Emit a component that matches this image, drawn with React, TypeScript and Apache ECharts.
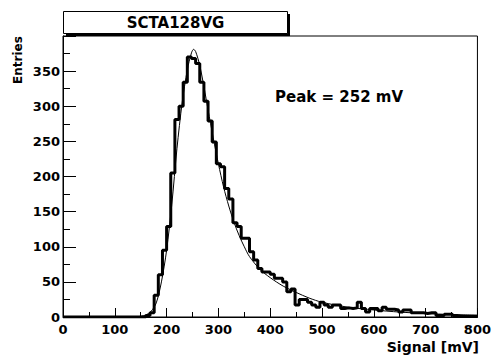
import React, { useEffect, useRef } from "react";
import * as echarts from "echarts";

const binWidth = 8;
const histCounts = [
  0, 0, 0, 0, 0, 0, 0, 0, 0, 0,
  0, 0, 0, 0, 0, 0, 0, 0, 0, 0,
  2, 6, 31, 60, 95, 129, 205, 281, 300, 334,
  370, 368, 361, 334, 307, 279, 249, 218, 214, 183,
  168, 134, 129, 112, 112, 93, 81, 69, 64, 64,
  61, 55, 55, 50, 36, 40, 17, 25, 25, 21,
  17, 14, 21, 17, 14, 17, 17, 12, 13, 12,
  13, 21, 12, 7, 12, 12, 9, 14, 11, 11,
  10, 7, 10, 10, 6, 6, 6, 5, 6, 6,
  2, 2, 4, 4, 2, 1, 1, 1, 1, 1,
];
const fitX = [0, 140, 150, 160, 170, 180, 190, 200, 210, 220, 230, 240, 248, 252, 256, 264, 272, 280, 290, 300, 310, 320, 330, 340, 350, 360, 380, 400, 425, 450, 475, 500, 550, 600, 650, 700, 750, 800];
const fitY = [0, 0.3, 1, 3, 8, 20, 50, 95, 160, 240, 305, 352, 376, 381, 378, 358, 328, 295, 255, 218, 185, 158, 135, 116, 100, 86, 68, 56, 44, 35, 27, 21, 14, 10, 7, 5, 3.5, 2.5];
const xTickValues = [0, 100, 200, 300, 400, 500, 600, 700, 800];
const yTickValues = [0, 50, 100, 150, 200, 250, 300, 350];

const FONT = "DejaVu Sans";

export default function App() {
  const ref = useRef<HTMLDivElement>(null);
  useEffect(() => {
    if (!ref.current) return;
    const chart = echarts.init(ref.current, null, { renderer: "svg" });
    const histData: number[][] = histCounts.map((c, i) => [i * binWidth, c]);
    histData.push([histCounts.length * binWidth, histCounts[histCounts.length - 1]]);
    const fitData = fitX.map((x, i) => [x, fitY[i]]);
    chart.setOption({
      animation: false,
      backgroundColor: "#fff",
      grid: {
        left: 63,
        right: 15,
        top: 36,
        bottom: 39,
        show: true,
        borderColor: "#000",
        borderWidth: 1,
        backgroundColor: "transparent",
      },
      xAxis: {
        type: "value",
        min: 0,
        max: 800,
        interval: 100,
        axisLine: { show: true, onZero: false, lineStyle: { color: "#000", width: 1 } },
        axisTick: { show: true, inside: true, length: 9, lineStyle: { color: "#000" } },
        minorTick: { show: true, splitNumber: 2, length: 5, lineStyle: { color: "#000" } },
        splitLine: { show: false },
        axisLabel: {
          margin: 6,
          fontFamily: FONT,
          fontWeight: "bold",
          fontSize: 13,
          color: "#000",
          formatter: (v: number) => (xTickValues.includes(v) ? String(v) : ""),
        },
      },
      yAxis: {
        type: "value",
        min: 0,
        max: 400,
        interval: 50,
        axisLine: { show: true, onZero: false, lineStyle: { color: "#000", width: 1 } },
        axisTick: { show: true, inside: true, length: 13, lineStyle: { color: "#000" } },
        minorTick: { show: true, splitNumber: 2, length: 7, lineStyle: { color: "#000" } },
        splitLine: { show: false },
        axisLabel: {
          margin: 3,
          fontFamily: FONT,
          fontWeight: "bold",
          fontSize: 13,
          color: "#000",
          formatter: (v: number) => (yTickValues.includes(v) ? String(v) : ""),
        },
      },
      series: [
        {
          type: "line",
          data: histData,
          step: "end",
          showSymbol: false,
          lineStyle: { color: "#000", width: 3 },
          z: 3,
        },
        {
          type: "line",
          data: fitData,
          smooth: 0.3,
          showSymbol: false,
          lineStyle: { color: "#000", width: 1 },
          z: 4,
        },
      ],
      graphic: [
        {
          type: "rect",
          shape: { x: 66, y: 14, width: 224, height: 22 },
          style: { fill: "#000" },
          z: 10,
        },
        {
          type: "rect",
          shape: { x: 63.5, y: 11.5, width: 224, height: 22 },
          style: { fill: "#fff", stroke: "#000", lineWidth: 1 },
          z: 11,
        },
        {
          type: "text",
          x: 175.5,
          y: 23,
          style: {
            text: "SCTA128VG",
            font: `bold 15px "${FONT}"`,
            fill: "#000",
            align: "center",
            verticalAlign: "middle",
          },
          z: 12,
        },
        {
          type: "text",
          x: 275,
          y: 97,
          style: {
            text: "Peak = 252 mV",
            font: `bold 15px "${FONT}"`,
            fill: "#000",
            align: "left",
            verticalAlign: "middle",
          },
          z: 12,
        },
        {
          type: "text",
          x: 18,
          y: 60,
          rotation: Math.PI / 2,
          style: {
            text: "Entries",
            font: `bold 12px "${FONT}"`,
            fill: "#000",
            align: "center",
            verticalAlign: "middle",
          },
          z: 12,
        },
        {
          type: "text",
          x: 479,
          y: 347,
          style: {
            text: "Signal [mV]",
            font: `bold 14px "${FONT}"`,
            fill: "#000",
            align: "right",
            verticalAlign: "middle",
          },
          z: 12,
        },
      ],
    });
    return () => chart.dispose();
  }, []);
  return (
    <div
      ref={ref}
      style={{ position: "absolute", left: 0, top: 0, width: 494, height: 356 }}
    />
  );
}
